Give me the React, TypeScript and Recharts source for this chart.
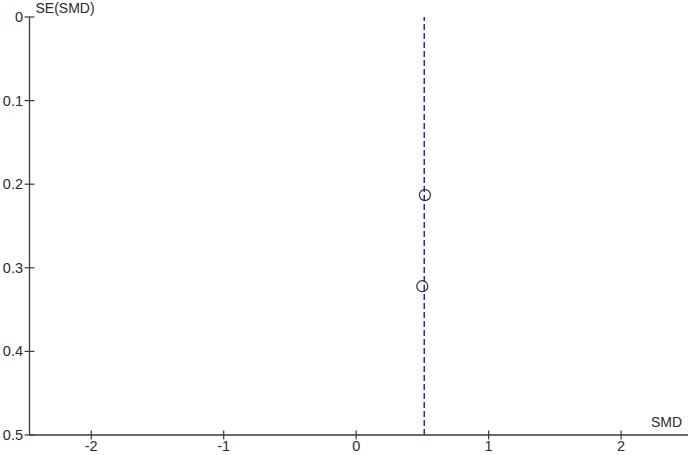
import React from "react";
import {
  ScatterChart,
  Scatter,
  XAxis,
  YAxis,
  ReferenceLine,
} from "recharts";

// ─── DATA ────────────────────────────────────────────────────────────────
const studySMD = [0.519, 0.499];
const studySE = [0.213, 0.322];
const pooledSMD = 0.514;

const xTicks = [-2, -1, 0, 1, 2];
const yTicks = [0, 0.1, 0.2, 0.3, 0.4, 0.5];
const xDomain = [-2.466, 2.505];
const yDomain = [0, 0.5];

const points = studySMD.map((smd, i) => ({ smd, se: studySE[i] }));

// ─── STYLE ───────────────────────────────────────────────────────────────
const FONT = "'Liberation Sans', Arial, sans-serif";
const INK = "#2b2b2b";
const AXIS = "#3a3a3a";
const BLUE = "#2626b4";

const YTick = ({ x, y, payload }: any) => (
  <g>
    <line x1={x - 5} x2={x + 5} y1={y} y2={y} stroke={AXIS} strokeWidth={1.2} />
    <text
      x={x - 6.5}
      y={y}
      textAnchor="end"
      dominantBaseline="central"
      fontFamily={FONT}
      fontSize={14.5}
      fill={INK}
    >
      {String(payload.value)}
    </text>
  </g>
);

const XTick = ({ x, y, payload }: any) => (
  <g>
    <line x1={x} x2={x} y1={y - 4.5} y2={y + 4.5} stroke={AXIS} strokeWidth={1.2} />
    <text
      x={x}
      y={y + 16}
      textAnchor="middle"
      fontFamily={FONT}
      fontSize={14.5}
      fill={INK}
    >
      {String(payload.value)}
    </text>
  </g>
);

const Ring = ({ cx, cy }: any) => (
  <circle cx={cx} cy={cy} r={5.5} fill="none" stroke={INK} strokeWidth={1.2} />
);

export default function App() {
  return (
    <div style={{ position: "absolute", left: 0, top: 0, background: "#fff" }}>
      <ScatterChart
        width={688}
        height={455}
        margin={{ top: 17, right: 0, bottom: 0, left: 0 }}
      >
        <XAxis
          type="number"
          dataKey="smd"
          domain={xDomain}
          ticks={xTicks}
          allowDataOverflow
          height={20}
          tickSize={0}
          tickMargin={0}
          tick={<XTick />}
          axisLine={{ stroke: AXIS, strokeWidth: 1.3 }}
          tickLine={false}
          label={{
            content: ({ viewBox }: any) => (
              <text
                x={viewBox.x + viewBox.width - 6}
                y={viewBox.y - 8}
                textAnchor="end"
                fontFamily={FONT}
                fontSize={14}
                fill={INK}
              >
                SMD
              </text>
            ),
          }}
        />
        <YAxis
          type="number"
          dataKey="se"
          domain={yDomain}
          ticks={yTicks}
          reversed
          allowDataOverflow
          width={29.5}
          tickSize={0}
          tickMargin={0}
          tick={<YTick />}
          axisLine={{ stroke: AXIS, strokeWidth: 1.3 }}
          tickLine={false}
          label={{
            content: ({ viewBox }: any) => (
              <text
                x={viewBox.x + viewBox.width + 6}
                y={viewBox.y - 4}
                fontFamily={FONT}
                fontSize={14}
                fill={INK}
              >
                SE(SMD)
              </text>
            ),
          }}
        />
        <ReferenceLine
          x={pooledSMD}
          stroke={BLUE}
          strokeWidth={1.5}
          strokeDasharray="6 3"
        />
        <Scatter data={points} shape={<Ring />} isAnimationActive={false} />
      </ScatterChart>
    </div>
  );
}
